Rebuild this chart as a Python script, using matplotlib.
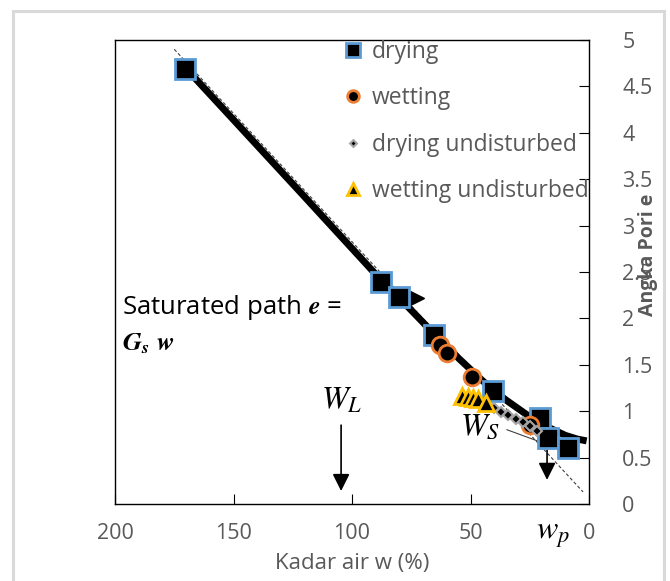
import matplotlib
matplotlib.use("Agg")
import matplotlib.pyplot as plt
from matplotlib.patches import Rectangle

plt.rcParams['font.family'] = ['Open Sans', 'DejaVu Sans']
plt.rcParams['mathtext.fontset'] = 'stix'

# drying / wetting data (water content w in %, void ratio e)
dry_w = [170.5, 87.8, 80.2, 65.4, 40.5, 20.7, 17.3, 8.9]
dry_e = [4.69, 2.39, 2.23, 1.82, 1.22, 0.93, 0.71, 0.60]

wet_w = [62.9, 59.9, 49.4, 24.9]
wet_e = [1.71, 1.63, 1.37, 0.85]

dry_u_w = [40, 37, 34, 31, 28, 25, 22]
dry_u_e = [1.03, 0.99, 0.96, 0.92, 0.88, 0.84, 0.79]

wet_u_w = [53.6, 51.0, 48.9, 46.8, 43.5]
wet_u_e = [1.16, 1.15, 1.14, 1.13, 1.09]

# fitted curve
fit_w = [171, 150, 120, 88, 80, 66, 60, 55, 50, 45, 40, 35, 30, 25, 20, 15, 10, 5, 1]
fit_e = [4.72, 4.14, 3.31, 2.42, 2.22, 1.85, 1.70, 1.57, 1.45, 1.33, 1.22, 1.12, 1.03, 0.94, 0.86, 0.80, 0.74, 0.70, 0.68]

# saturated path e = Gs w (dashed) and shrinkage tangent
sat_w = [175, 2.5]
sat_e = [4.90, 0.13]
ws_w = [34.6, 20.7]
ws_e = [0.80, 0.67]

grey = '#595959'

fig = plt.figure(figsize=(6.7, 5.81), dpi=100)
fig.patches.append(Rectangle((13/670, -0.01), 651/670, 1 - 11/581 + 0.01,
                             transform=fig.transFigure, fill=False,
                             edgecolor='#D9D9D9', lw=2.2))
ax = fig.add_axes([115/670, 1 - 504/581, 474/670, 464/581])

ax.plot(sat_w, sat_e, color='#404040', lw=0.8, ls=(0, (3, 2)), zorder=2)
ax.plot(ws_w, ws_e, color='#404040', lw=0.8, zorder=2)
ax.plot(fit_w, fit_e, color='black', lw=5, solid_capstyle='butt', zorder=3)

ax.plot(dry_w, dry_e, ls='none', marker='s', ms=14, mfc='black', mec='#5B9BD5', mew=2,
        label='drying', zorder=5)
ax.plot(wet_w, wet_e, ls='none', marker='o', ms=12, mfc='black', mec='#ED7D31', mew=2,
        label='wetting', zorder=5)
ax.plot(dry_u_w, dry_u_e, ls='none', marker='D', ms=5, mfc='black', mec='#A5A5A5', mew=1.5,
        label='drying undisturbed', zorder=5)
ax.plot(wet_u_w, wet_u_e, ls='none', marker='^', ms=12, mfc='black', mec='#FFC000', mew=2,
        label='wetting undisturbed', zorder=5)

ax.plot([73], [2.22], ls='none', marker='>', ms=11, color='black', zorder=4)

# liquid and plastic limit arrows
arrow = dict(arrowstyle='-|>', color='black', lw=1.2, mutation_scale=26, shrinkA=0, shrinkB=0)
ax.annotate('', xy=(104.6, 0.14), xytext=(104.6, 0.85), arrowprops=arrow)
ax.annotate('', xy=(17.7, 0.26), xytext=(17.7, 0.58), arrowprops=arrow)

ax.text(104.6, 1.12, r'$W_L$', fontsize=23, ha='center', va='center')
ax.text(46, 0.84, r'$W_S$', fontsize=23, ha='center', va='center')
ax.text(15, -0.32, r'$w_p$', fontsize=23, ha='center', va='center', clip_on=False)

ax.text(197, 2.12, r'Saturated path $\mathbfit{e}$ =', fontsize=18.5, ha='left', va='center')
ax.text(197, 1.73, r'$\mathbfit{G_s}\ \mathbfit{w}$', fontsize=19, ha='left', va='center')

ax.set_xlim(200, 0)
ax.set_ylim(0, 5)
ax.set_xticks([200, 150, 100, 50, 0])
ax.set_yticks([0, 0.5, 1, 1.5, 2, 2.5, 3, 3.5, 4, 4.5, 5])
ax.set_yticklabels(['0', '0.5', '1', '1.5', '2', '2.5', '3', '3.5', '4', '4.5', '5'])
ax.yaxis.tick_right()
ax.tick_params(axis='x', direction='in', length=7, pad=14, labelsize=15.5, labelcolor=grey)
ax.tick_params(axis='y', direction='in', length=7, pad=24, labelsize=15.5, labelcolor=grey)
for lab in ax.get_yticklabels():
    lab.set_horizontalalignment('left')
for s in ax.spines.values():
    s.set_color('black')
    s.set_linewidth(1)

ax.set_xlabel('Kadar air w (%)', fontsize=16, color=grey, labelpad=6)
fig.text(648/670, 1 - 255/581, 'Angka Pori e', rotation=90, fontsize=14, fontweight='bold',
         color=grey, ha='center', va='center')

leg = ax.legend(loc='upper left', bbox_to_anchor=(344/670, 1 - 40/581),
                bbox_transform=fig.transFigure, frameon=False, fontsize=16.5,
                handlelength=0.8, handletextpad=0.4, labelspacing=0.98,
                borderpad=0, borderaxespad=0, markerscale=0.7)
for t in leg.get_texts():
    t.set_color(grey)

fig.savefig('out.png', dpi=100)
